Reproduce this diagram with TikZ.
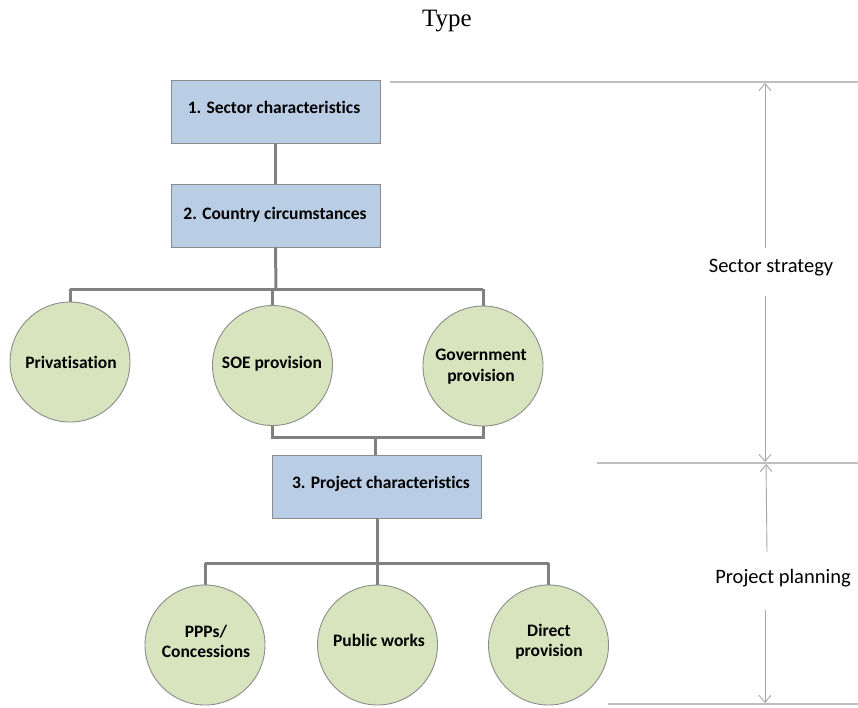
\documentclass[tikz,border=0pt]{standalone}
\usepackage{fontspec}
\setmainfont{Carlito}[Ligatures=NoCommon]
\newfontfamily\titlefont{Liberation Serif}
\usetikzlibrary{arrows.meta}
\definecolor{boxblue}{HTML}{B9CDE5}
\definecolor{circgreen}{HTML}{D7E4BD}
\definecolor{edgegray}{HTML}{8C8C8C}
\definecolor{linkgray}{HTML}{808080}
\definecolor{guidegray}{HTML}{BFBFBF}
\definecolor{arrgray}{HTML}{A6A6A6}
\tikzset{
  stagebox/.style={draw=edgegray, line width=0.9pt, fill=boxblue, minimum width=209pt, minimum height=63pt, inner sep=0pt},
  stagelbl/.style={inner sep=0pt, font=\fontsize{17.5}{20}\selectfont\bfseries},
  optcirc/.style={draw=edgegray, line width=0.9pt, fill=circgreen, circle, minimum size=120pt, inner sep=0pt},
  optlbl/.style={inner sep=0pt, align=center, font=\fontsize{17.5}{20.5}\selectfont\bfseries},
  link/.style={draw=linkgray, line width=3pt},
  guide/.style={draw=guidegray, line width=1.2pt},
  dimarrow/.style={draw=arrgray, line width=0.9pt},
  dimtip/.style={-{Straight Barb[length=7pt,width=12pt]}},
  lbl/.style={font=\fontsize{20.5}{22}\selectfont, inner sep=0pt}
}
\begin{document}
\begin{tikzpicture}[x=1pt,y=-1pt]
\useasboundingbox (0,0) rectangle (858,707);
\node[font=\titlefont\fontsize{25}{28}\selectfont] (title) at (447,21) {Type};

\node[stagebox] (b1) at (275.5,111.5) {};
\node[stagebox] (b2) at (275.5,215.5) {};
\node[stagebox] (b3) at (377,486.5) {};
\node[stagelbl] (b1t) at (274,107.5) {1. Sector characteristics};
\node[stagelbl] (b2t) at (275,214.5) {2. Country circumstances};
\node[stagelbl] (b3t) at (381,483.5) {3. Project characteristics};

\node[optcirc] (c1) at (70,362) {};
\node[optcirc] (c2) at (272.5,365.5) {};
\node[optcirc] (c3) at (483,366) {};
\node[optlbl] (c1t) at (71,362) {Privatisation};
\node[optlbl] (c2t) at (272,364) {SOE provision};
\node[optlbl] (c3t) at (481,366.5) {Government\\provision};

\node[optcirc] (d1) at (205,645) {};
\node[optcirc] (d2) at (377.5,645) {};
\node[optcirc] (d3) at (548.5,645) {};
\node[optlbl] (d1t) at (206,641.5) {PPPs/\\Concessions};
\node[optlbl] (d2t) at (379,640) {Public works};
\node[optlbl] (d3t) at (549,641.5) {Direct\\provision};

% connectors
\draw[link] (b1.south) -- (b2.north);
\coordinate (j1) at (276,289);
\draw[link] (b2.south) -- (j1);
\draw[link] (c1.north |- j1) -- (c3.north |- j1);
\draw[link] (c1.north |- j1) -- (c1.north);
\draw[link] (c2.north |- j1) -- (c2.north);
\draw[link] (c3.north |- j1) -- (c3.north);

\coordinate (j2) at (375,437);
\draw[link] (c2.south) -- (c2.south |- j2) -- (c3.south |- j2) -- (c3.south);
\draw[link] (j2) -- (j2 |- b3.north);

\coordinate (j3) at (377,563);
\draw[link] (b3.south) -- (j3);
\draw[link] (d1.north |- j3) -- (d3.north |- j3);
\draw[link] (d1.north |- j3) -- (d1.north);
\draw[link] (d2.north |- j3) -- (d2.north);
\draw[link] (d3.north |- j3) -- (d3.north);

% guides
\coordinate (g1a) at (390,82);  \coordinate (g1b) at (858,82);
\coordinate (g2a) at (597,463); \coordinate (g2b) at (858,463);
\coordinate (g3a) at (608,704); \coordinate (g3b) at (858,704);
\draw[guide] (g1a) -- (g1b);
\draw[guide] (g2a) -- (g2b);
\draw[guide] (g3a) -- (g3b);

\node[lbl] (l1) at (771,268) {Sector strategy};
\node[lbl] (l2) at (783,578) {Project planning};

\coordinate (a1t) at (765,83);
\coordinate (a1b) at (765,462);
\coordinate (a2t) at (766,464);
\coordinate (a2b) at (765,703);
\draw[dimarrow,dimtip] (765,248) -- (a1t);
\draw[dimarrow,dimtip] (765,296) -- (a1b);
\draw[dimarrow,dimtip] (767,552) -- (a2t);
\draw[dimarrow,dimtip] (765,610) -- (a2b);
\end{tikzpicture}
\end{document}
